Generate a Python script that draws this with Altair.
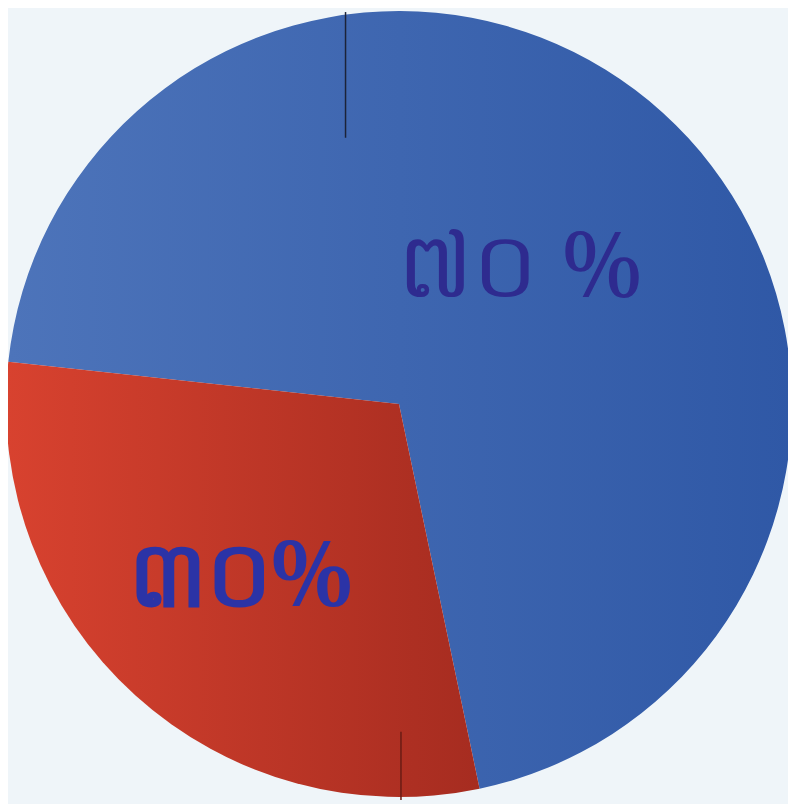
import altair as alt
import pandas as pd

# Data
categories = ["blue", "red"]
values = [70, 30]
labels = ["៧០ %", "៣០%"]

df = pd.DataFrame({"name": categories, "value": values, "label": labels, "order": [0, 1]})

blue_grad = alt.LinearGradient(
    gradient="linear",
    stops=[alt.GradientStop(color="#4d74ba", offset=0), alt.GradientStop(color="#2f58a6", offset=1)],
    x1=0, x2=1, y1=0, y2=0,
)
red_grad = alt.LinearGradient(
    gradient="linear",
    stops=[alt.GradientStop(color="#d8422f", offset=0), alt.GradientStop(color="#a62c20", offset=1)],
    x1=0, x2=1, y1=0, y2=0,
)

start = 4.82
theta_scale = alt.Scale(range=[start, start + 6.283185])

base = alt.Chart(df).encode(
    theta=alt.Theta("value:Q", stack=True, scale=theta_scale),
    order=alt.Order("order:Q"),
)

pie = base.mark_arc(radius=397, x=395, y=396).encode(
    color=alt.condition(alt.datum.name == "blue", alt.value(blue_grad), alt.value(red_grad)),
)

text_blue = base.mark_text(
    radius=183, x=395, y=396, fontSize=92, font="Noto Serif, DejaVu Serif, serif",
    color="#2e2b8f", align="center", baseline="middle",
).encode(
    text=alt.condition(alt.datum.name == "blue", alt.Text("label:N"), alt.value("")),
)

text_red = base.mark_text(
    radius=238, x=395, y=396, fontSize=92, fontWeight="bold", font="Noto Serif, DejaVu Serif, serif",
    color="#2b33a6", align="center", baseline="middle",
).encode(
    text=alt.condition(alt.datum.name == "red", alt.Text("label:N"), alt.value("")),
)

line_top = alt.Chart(df).mark_rule(color="#1c2338", strokeWidth=1.5).encode(
    x=alt.value(341), y=alt.value(0), y2=alt.value(127)
).transform_filter(alt.datum.name == "blue")

line_bottom = alt.Chart(df).mark_rule(color="#6a1c14", strokeWidth=1.5).encode(
    x=alt.value(397), y=alt.value(727), y2=alt.value(796)
).transform_filter(alt.datum.name == "blue")

chart = alt.layer(pie, text_blue, text_red, line_top, line_bottom).properties(
    width=788, height=796, padding=0, autosize=alt.AutoSizeParams(type="none"),
    background="#eff5f9",
).configure_view(stroke=None)

chart.save("out.html", embed_options={"renderer": "svg", "actions": False})
